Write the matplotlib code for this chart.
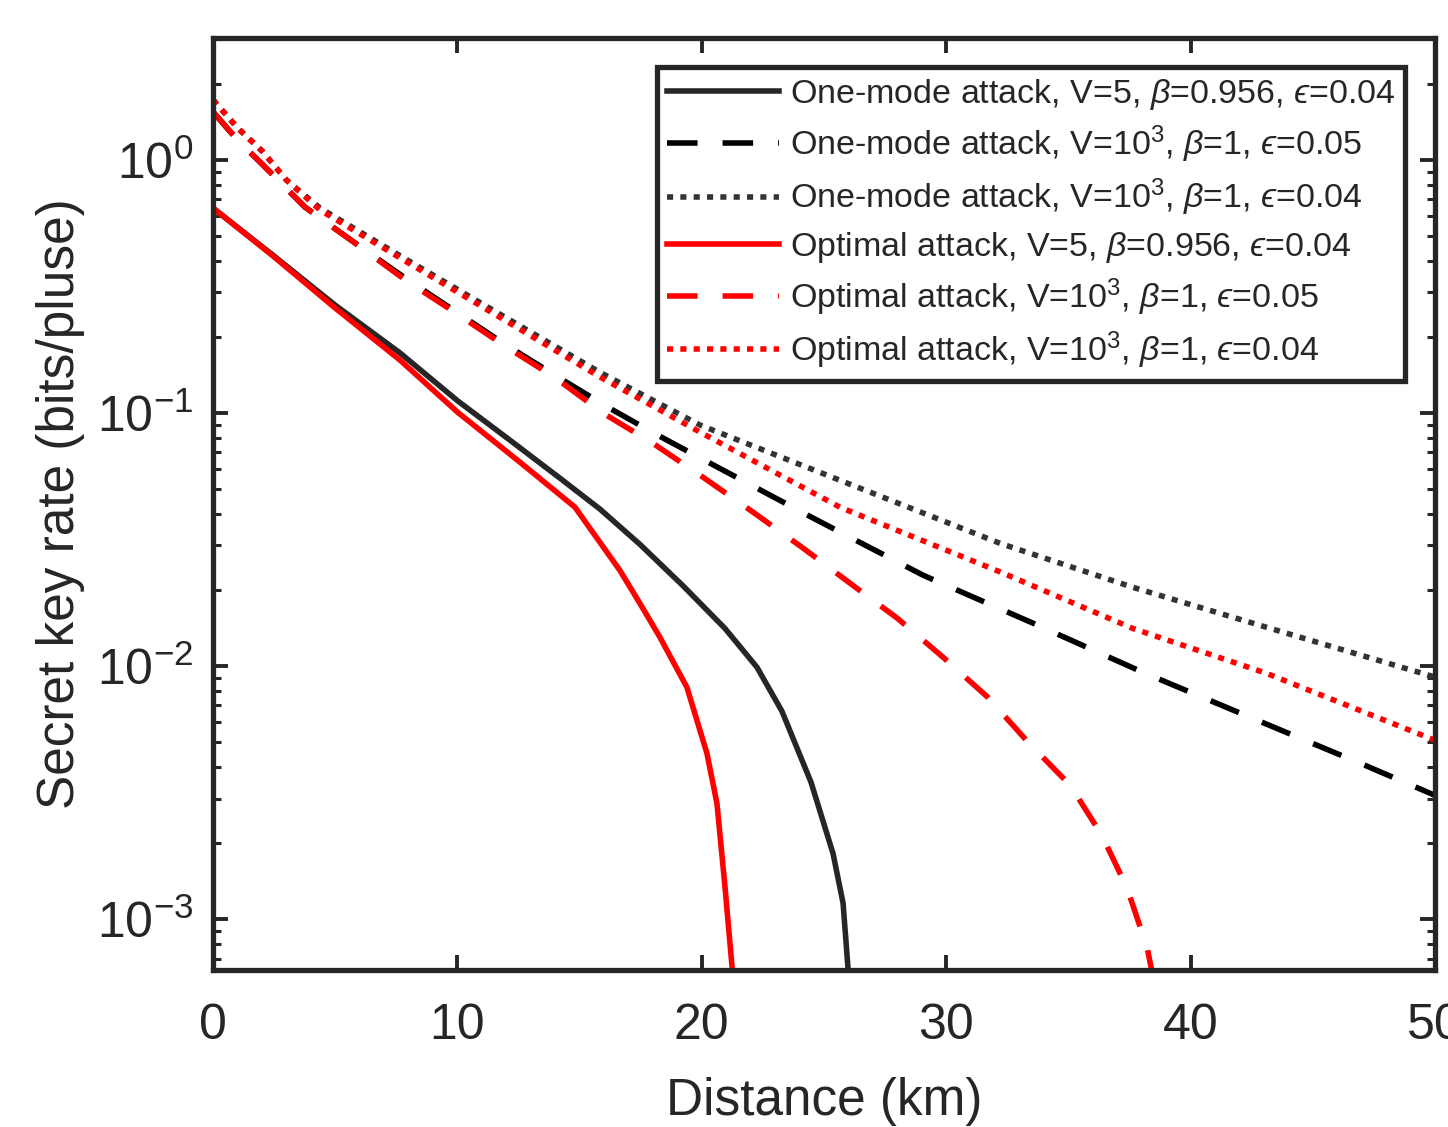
import numpy as np
import matplotlib
matplotlib.use("Agg")
import matplotlib.pyplot as plt
from matplotlib.ticker import LogLocator, NullFormatter

plt.rcParams['font.family'] = ['Liberation Sans', 'DejaVu Sans']
plt.rcParams['mathtext.fontset'] = 'custom'
plt.rcParams['mathtext.rm'] = 'Liberation Sans'
plt.rcParams['mathtext.it'] = 'Liberation Sans:italic'
plt.rcParams['mathtext.fallback'] = 'stixsans'

# one-mode attack, V=5, beta=0.956, eps=0.04
d_one_v5 = [0, 2.45, 5.0, 7.65, 10.0, 12.15, 14.2, 15.83, 17.47, 19.23, 20.95, 22.26, 23.28,
            24.47, 25.37, 25.78, 25.98, 26.06]
k_one_v5 = [0.646, 0.421, 0.267, 0.173, 0.112, 0.0782, 0.0553, 0.0418, 0.0303, 0.0208, 0.0141,
            0.0099, 0.00664, 0.00348, 0.00182, 0.00116, 0.000646, 0.0005]

# one-mode attack, V=1e3, beta=1, eps=0.05
d_one_e05 = [0, 1, 2.05, 3.76, 5.81, 7.86, 9.9, 11.87, 14.0, 16.12, 18.2, 20.34, 24.71, 29.05,
             33.55, 38.05, 42.55, 47.14, 50]
k_one_e05 = [1.55, 1.2, 0.955, 0.652, 0.47, 0.342, 0.253, 0.189, 0.141, 0.106, 0.0818, 0.0634,
             0.0378, 0.0229, 0.0148, 0.00946, 0.00622, 0.00406, 0.00309]

# one-mode attack, V=1e3, beta=1, eps=0.04
d_one_e04 = [0, 1, 2.03, 3.0, 4.38, 7.94, 11.74, 15.83, 19.93, 25.65, 32.2, 37.64, 43.1, 50]
k_one_e04 = [1.73, 1.34, 1.08, 0.834, 0.646, 0.403, 0.246, 0.145, 0.0897, 0.0543, 0.0306,
             0.0205, 0.01426, 0.00906]

# optimal attack, V=5, beta=0.956, eps=0.04
d_opt_v5 = [0, 2.45, 5.0, 7.65, 10.0, 12.56, 14.81, 16.65, 17.47, 18.29, 19.39, 20.21, 20.62,
            20.95, 21.24, 21.3]
k_opt_v5 = [0.646, 0.418, 0.260, 0.162, 0.101, 0.064, 0.0425, 0.0239, 0.0177, 0.0130, 0.00826,
            0.00453, 0.00287, 0.00134, 0.000646, 0.0005]

# optimal attack, V=1e3, beta=1, eps=0.05
d_opt_e05 = [0, 1, 2.05, 3.76, 5.81, 7.86, 9.9, 11.87, 14.0, 15.96, 18.0, 20.05, 22.1, 24.1,
             26.06, 27.99, 29.87, 31.71, 33.35, 35.07, 36.37, 37.4, 38.22, 38.45]
k_opt_e05 = [1.55, 1.2, 0.955, 0.652, 0.47, 0.336, 0.25, 0.186, 0.138, 0.100, 0.0760, 0.0558,
             0.0406, 0.0295, 0.0213, 0.0155, 0.01086, 0.00753, 0.00501, 0.00339, 0.00215,
             0.00133, 0.000774, 0.0006]

# optimal attack, V=1e3, beta=1, eps=0.04
d_opt_e04 = [0, 1, 2.03, 3.0, 4.38, 7.94, 11.74, 15.83, 19.93, 25.65, 32.2, 37.64, 43.1, 50]
k_opt_e04 = [1.73, 1.34, 1.08, 0.834, 0.634, 0.395, 0.239, 0.139, 0.0841, 0.0425, 0.0236,
             0.0141, 0.00938, 0.00510]

labels = [
    r'One-mode attack, V=5, $\beta$=0.956, $ϵ$=0.04',
    r'One-mode attack, V=10$^3$, $\beta$=1, $ϵ$=0.05',
    r'One-mode attack, V=10$^3$, $\beta$=1, $ϵ$=0.04',
    r'Optimal attack, V=5, $\beta$=0.956, $ϵ$=0.04',
    r'Optimal attack, V=10$^3$, $\beta$=1, $ϵ$=0.05',
    r'Optimal attack, V=10$^3$, $\beta$=1, $ϵ$=0.04',
]

dark = '#262626'
red = '#ff0000'
lw = 4
dash = (5.5, 4.5)
dot = (1.1, 1.3)

fig = plt.figure(figsize=(14.48, 11.27), dpi=100)
ax = fig.add_axes([213 / 1448, 157 / 1127, 1222 / 1448, 932 / 1127])

ax.plot(d_one_v5, k_one_v5, color=dark, lw=lw, label=labels[0])
ax.plot(d_one_e05, k_one_e05, color='black', lw=lw, dashes=dash, label=labels[1])
ax.plot(d_one_e04, k_one_e04, color='#333333', lw=lw, dashes=dot, label=labels[2])
ax.plot(d_opt_v5, k_opt_v5, color=red, lw=lw, label=labels[3])
ax.plot(d_opt_e05, k_opt_e05, color=red, lw=lw, dashes=dash, label=labels[4])
ax.plot(d_opt_e04, k_opt_e04, color=red, lw=lw, dashes=dot, label=labels[5])

ax.set_yscale('log')
ax.set_xlim(0, 50)
ax.set_ylim(10 ** -3.2, 10 ** 0.482)
ax.set_xticks([0, 10, 20, 30, 40, 50])
ax.yaxis.set_major_locator(LogLocator(base=10, numticks=10))
ax.yaxis.set_minor_locator(LogLocator(base=10, subs=np.arange(2, 10), numticks=20))
ax.yaxis.set_minor_formatter(NullFormatter())

for s in ax.spines.values():
    s.set_linewidth(3.8)
    s.set_color(dark)
ax.tick_params(which='both', direction='in', top=True, right=True, colors=dark, labelcolor=dark)
ax.tick_params(which='major', length=11, width=2.8, labelsize=36)
ax.tick_params(which='minor', length=6, width=2.2)
ax.tick_params(axis='x', which='major', pad=24)
ax.tick_params(axis='y', which='major', pad=14)

ax.set_xlabel('Distance (km)', fontsize=37, color=dark)
ax.set_ylabel('Secret key rate (bits/pluse)', fontsize=37, color=dark)
ax.xaxis.set_label_coords(0.5, -0.115)
ax.yaxis.set_label_coords(-0.105, 0.5)

leg = ax.legend(loc='upper right', bbox_to_anchor=((1405 - 213) / 1222, (970 - 67) / 932),
                borderaxespad=0, fontsize=24.5, handlelength=3.3, handletextpad=0.3,
                labelspacing=0.34, borderpad=0.3, fancybox=False, framealpha=1)
leg.get_frame().set_edgecolor(dark)
leg.get_frame().set_linewidth(3.8)
for t in leg.get_texts():
    t.set_color(dark)

fig.savefig('out.png', dpi=100)
